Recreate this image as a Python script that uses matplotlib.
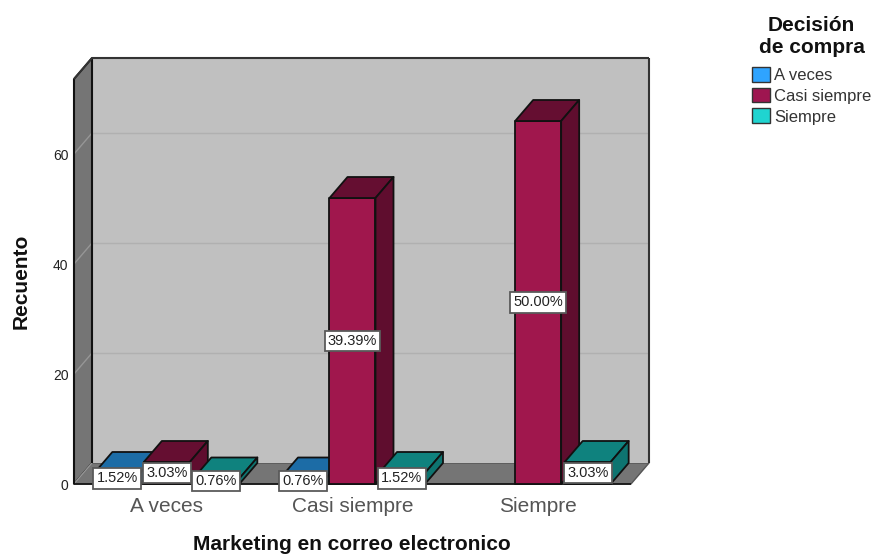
import matplotlib
matplotlib.use("Agg")
import matplotlib.pyplot as plt
from matplotlib.patches import Polygon, Patch

plt.rcParams['font.family'] = ['Liberation Sans', 'DejaVu Sans']

categories = ["A veces", "Casi siempre", "Siempre"]
series_names = ["A veces", "Casi siempre", "Siempre"]
a_veces = [2, 1, 0]
casi_siempre = [4, 52, 66]
siempre = [1, 2, 4]
total = 132
y_ticks = [0, 20, 40, 60]

legend_colors = ["#2FA4FF", "#9E1650", "#1FD4D0"]
front_colors = ["#2FA4FF", "#A0174D", "#12A8A4"]
top_colors = ["#1C6CA6", "#650E31", "#0F827E"]
side_colors = ["#17588A", "#5F0D2E", "#0E7470"]
WALL = "#C0C0C0"
FLOOR = "#757575"
GRID = "#B0B0B0"
SIDE_GRID = "#969696"
EDGE = "#111111"

W, H = 876, 554
fig = plt.figure(figsize=(W / 100, H / 100), dpi=100)
left, right, bottom, top = 74, 631, 484, 79
ax = fig.add_axes([left / W, 1 - bottom / H, (right - left) / W, (bottom - top) / H])
ax.set_xlim(-0.5, 2.5)
px_y = 5.5
ax.set_ylim(0, (bottom - top) / px_y)
px_x = (right - left) / 3
dx, dy = 18 / px_x, 21 / px_y
x0, x1 = ax.get_xlim()
y0, y1 = ax.get_ylim()
ax.patch.set_visible(False)
for s in ax.spines.values():
    s.set_visible(False)


def poly(pts, fc, ec=EDGE, lw=1.3, z=1):
    ax.add_patch(Polygon(pts, closed=True, facecolor=fc, edgecolor=ec,
                         linewidth=lw, zorder=z, clip_on=False, joinstyle="round"))


def rule(xs, ys, color, lw, z=2):
    ax.plot(xs, ys, color=color, lw=lw, zorder=z, clip_on=False, solid_capstyle="butt")


# Chart box: side wall, floor, back wall
poly([(x0, y0), (x0 + dx, y0 + dy), (x0 + dx, y1 + dy), (x0, y1)], FLOOR)
poly([(x0, y0), (x1, y0), (x1 + dx, y0 + dy), (x0 + dx, y0 + dy)], FLOOR, ec="#555555", lw=1.0)
poly([(x0 + dx, y0 + dy), (x1 + dx, y0 + dy), (x1 + dx, y1 + dy), (x0 + dx, y1 + dy)], WALL, lw=0)

# Gridlines run along the side wall and the back wall
for t in y_ticks[1:]:
    rule([x0, x0 + dx], [t, t + dy], SIDE_GRID, 1.0)
    rule([x0 + dx, x1 + dx], [t + dy, t + dy], GRID, 1.0)
rule([x0, x0 + dx], [y0, y0 + dy], SIDE_GRID, 1.0)

rule([x0, x1], [y0, y0], EDGE, 1.2)
rule([x0, x0], [y0, y1], EDGE, 1.5)
rule([x0 + dx, x0 + dx], [y0 + dy, y1 + dy], EDGE, 1.5)
rule([x1 + dx, x1 + dx], [y0 + dy, y1 + dy], "#333333", 1.5)
rule([x0, x0 + dx, x1 + dx], [y1, y1 + dy, y1 + dy], "#333333", 1.5)

# Clustered bars, drawn left to right so nearer bars cover the side faces
bar_w = 46 / px_x
step = 49.5 / px_x
values = [a_veces, casi_siempre, siempre]
z = 3
labels = []
for c in range(len(categories)):
    for s in range(len(series_names)):
        v = values[s][c]
        if v == 0:
            continue
        xc = c + (s - 1) * step
        l, r = xc - bar_w / 2, xc + bar_w / 2
        poly([(l, 0), (r, 0), (r, v), (l, v)], front_colors[s], z=z)
        poly([(l, v), (r, v), (r + dx, v + dy), (l + dx, v + dy)], top_colors[s], z=z)
        poly([(r, 0), (r + dx, dy), (r + dx, v + dy), (r, v)], side_colors[s], z=z)
        z += 1
        labels.append((xc, v))

for xc, v in labels:
    ax.text(xc, v / 2, f"{v / total * 100:.2f}%", ha="center", va="center", fontsize=10.5,
            color="#222222", zorder=50,
            bbox=dict(boxstyle="square,pad=0.22", facecolor="white", edgecolor="#5A5A5A", linewidth=1.3))

ax.set_yticks(y_ticks)
ax.set_xticks(range(len(categories)))
ax.set_xticklabels(categories, fontsize=15, color="#555555")
ax.tick_params(axis="x", length=0, pad=9)
ax.tick_params(axis="y", length=0, labelsize=10, labelcolor="#222222", pad=4)

fig.text(352 / W, 1 - 545 / H, "Marketing en correo electronico", ha="center", va="center",
         fontsize=15, fontweight="bold", color="#111111")
fig.text(21 / W, 1 - 281 / H, "Recuento", ha="center", va="center", rotation=90,
         fontsize=15, fontweight="bold", color="#111111")

handles = [Patch(facecolor=col, edgecolor="#333333", linewidth=1.0, label=n)
           for col, n in zip(legend_colors, series_names)]
leg = fig.legend(handles=handles, title="Decisión\nde compra", loc="upper left",
                 bbox_to_anchor=(752 / W, 1 - 16 / H), frameon=False, fontsize=12,
                 title_fontproperties=dict(size=15, weight="bold"),
                 handlelength=1.08, handleheight=1.0, handletextpad=0.24,
                 labelspacing=0.28, borderpad=0, borderaxespad=0)
leg.get_title().set_multialignment("center")
leg.get_title().set_color("#111111")
leg._legend_box.sep = 7
for t in leg.get_texts():
    t.set_color("#333333")

fig.savefig("out.png", dpi=100)
